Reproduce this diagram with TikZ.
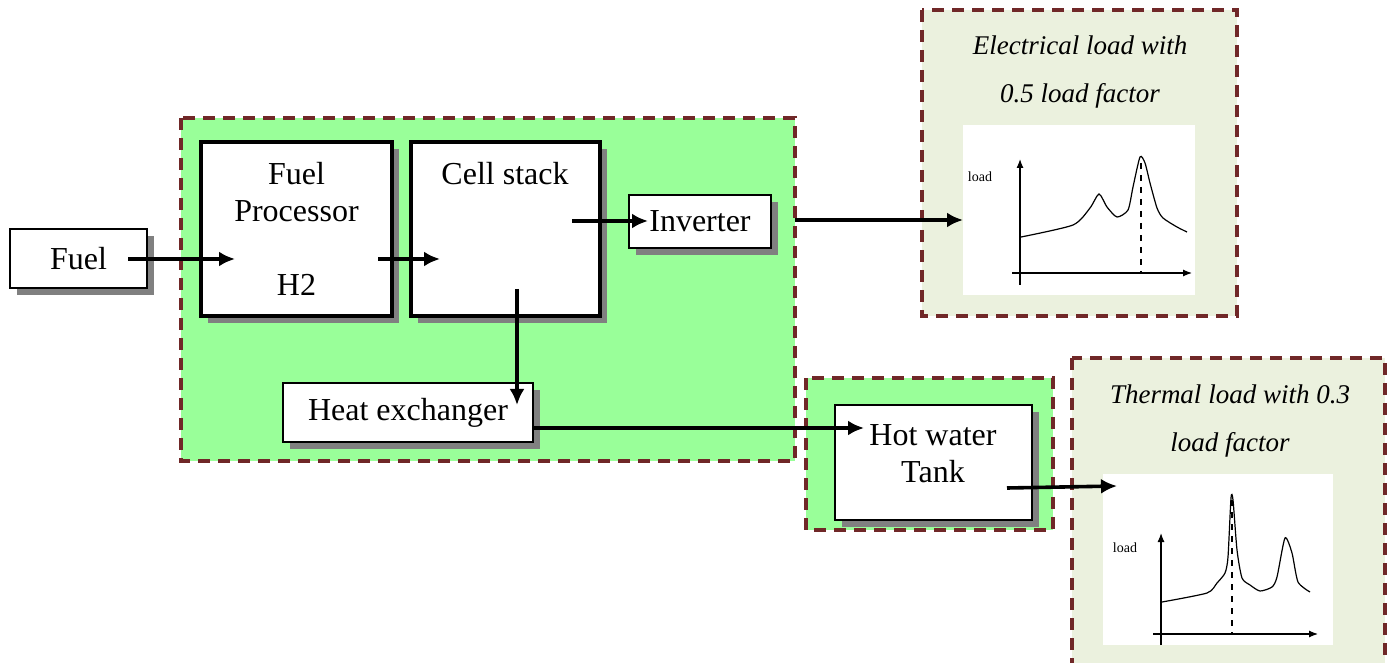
\documentclass[tikz,border=0pt]{standalone}
\usepackage{fontspec}
\setmainfont{Liberation Serif}
\usetikzlibrary{arrows.meta,shadows}
\definecolor{regionred}{RGB}{112,40,40}
\definecolor{regiongreen}{RGB}{153,255,153}
\definecolor{loadbg}{RGB}{235,241,222}

\begin{document}
\begin{tikzpicture}[x=0.5pt,y=-0.5pt,>={Latex[length=8pt,width=7.5pt]},
        font=\fontsize{16}{18.5}\selectfont,
        region/.style={draw=regionred,line width=2pt,dash pattern=on 6pt off 4pt},
        thinbox/.style={draw,fill=white,line width=1pt,inner sep=0pt,
            drop shadow={shadow xshift=3.5pt,shadow yshift=-3.5pt,fill=gray,opacity=1}},
        thickbox/.style={thinbox,line width=2pt},
        loadtext/.style={font=\fontsize{13.5}{24}\selectfont\itshape,align=center},
        flow/.style={->,line width=1.8pt},
        axis/.style={-{Latex[length=4.5pt,width=3.5pt]},line width=0.6pt}]
            \useasboundingbox (0,0) rectangle (1388,663);
            \clip (0,0) rectangle (1388,663);

            % fuel cell regions
            \filldraw[region,fill=regiongreen] (181,118) rectangle (795,461);
            \filldraw[region,fill=regiongreen] (806,378) rectangle (1053,530);

            % load regions
            \filldraw[region,fill=loadbg] (922,10) rectangle (1237,316);
            \filldraw[region,fill=loadbg] (1072,358) rectangle (1385,690);

            % input and plant boxes
            \node[thinbox,minimum width=68.5pt,minimum height=29.5pt] (fuel) at (78.5,258.5) {Fuel};
            \node[thickbox,minimum width=95.5pt,minimum height=87pt,align=center] (fp) at (296.5,229)
                {Fuel\\Processor\\[18.5pt]H2};
            \node[thickbox,minimum width=94.5pt,minimum height=87pt] (cs) at (505.5,229) {};
            \node (cstext) at (505,174) {Cell stack};
            \node[thinbox,minimum width=71pt,minimum height=26.5pt] (inv) at (700,221.5) {Inverter};
            \node[thinbox,minimum width=125pt,minimum height=29.5pt] (hx) at (408,412.5) {Heat exchanger};
            \node[thinbox,minimum width=98.5pt,minimum height=57.5pt] (tank) at (933.5,462.5) {};
            \node[align=center] (tanktext) at (933,454) {Hot water\\Tank};

            % load titles
            \node[loadtext] (eltitle) at (1080,72) {Electrical load with\\0.5 load factor};
            \node[loadtext] (thtitle) at (1230,421) {Thermal load with 0.3\\load factor};

            %electrical load curve
            \fill[white] (963,125) rectangle (1195,295);
            \draw[axis] (1020,285) -- (1020,159);
            \draw[axis] (1012,273) -- (1192,273);
            \draw[line width=0.6pt] plot[smooth,tension=0.4] coordinates {(1021,237) (1073,225) (1090,208)
                (1099,194) (1107,207) (1117,217) (1128,210) (1133,187) (1140,157) (1145,163)
                (1150,183) (1157,208) (1163,218) (1177,227) (1187,232)};
            \draw[dashed,line width=0.6pt] (1141,163) -- (1141,273);
            \node[font=\fontsize{7}{8}\selectfont] (eload) at (980,177) {load};

            %thermal load curve
            \fill[white] (1103,474) rectangle (1333,645);
            \draw[axis] (1161,645) -- (1161,533);
            \draw[axis] (1153,634) -- (1318,634);
            \draw[line width=0.6pt] plot[smooth,tension=0.4] coordinates {(1162,602) (1207,593) (1217,583)
                (1225,573) (1228,557) (1231,498) (1233,500) (1237,550) (1242,578) (1250,585)
                (1260,591) (1272,587) (1277,577) (1285,538) (1292,553) (1298,582) (1310,592)};
            \draw[dashed,line width=0.6pt] (1232,500) -- (1232,634);
            \node[font=\fontsize{7}{8}\selectfont] (tload) at (1125,548) {load};

            % flow arrows
            \coordinate (fuelout) at (128,259);
            \coordinate (fpin) at (235,259);
            \coordinate (fpout) at (378,259);
            \coordinate (csin) at (440,259);
            \coordinate (csout) at (572,221);
            \coordinate (invin) at (648,221);
            \coordinate (invout) at (795,220);
            \coordinate (elin) at (963,220);
            \coordinate (csheat) at (517,289);
            \coordinate (hxin) at (517,405);
            \coordinate (hxout) at (533,428);
            \coordinate (tankin) at (864,428);
            \coordinate (tankout) at (1007,488);
            \coordinate (thin) at (1117,486);
            \draw[flow] (fuelout) -- (fpin);
            \draw[flow] (fpout) -- (csin);
            \draw[flow] (csout) -- (invin);
            \draw[flow] (invout) -- (elin);
            \draw[flow] (csheat) -- (hxin);
            \draw[flow] (hxout) -- (tankin);
            \draw[flow] (tankout) -- (thin);
        \end{tikzpicture}
\end{document}
